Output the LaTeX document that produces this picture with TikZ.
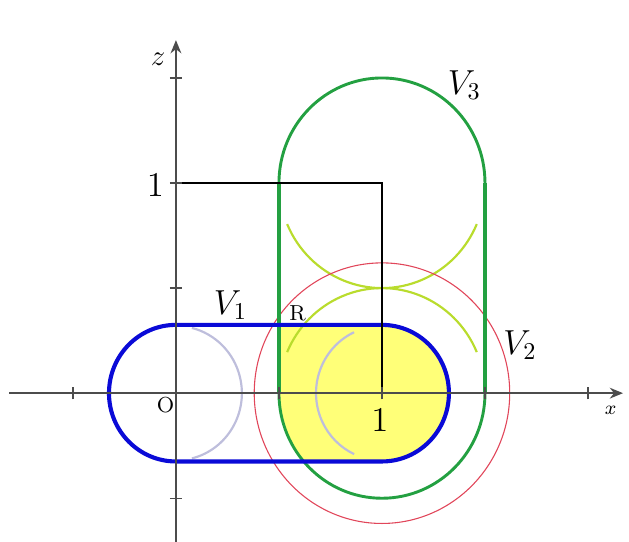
\documentclass[tikz,border=0pt]{standalone}
\usepackage{amsmath}
\usepackage{tikz}
\usetikzlibrary{arrows.meta}
\definecolor{vblue}{RGB}{10,10,215}
\definecolor{vgreen}{RGB}{35,160,65}
\definecolor{vlime}{RGB}{185,220,45}
\definecolor{vlav}{RGB}{190,190,220}
\definecolor{vred}{RGB}{225,70,90}
\definecolor{vyel}{RGB}{255,255,120}

\begin{document}
\begin{tikzpicture}[x=3cm, y=3.06cm,
    ax/.style={draw=black!70, line width=0.6pt},
    lab/.style={inner sep=1pt}]
                \useasboundingbox (-0.854,-0.705) rectangle (2.199,1.871);
                \coordinate (O) at (0,0);
                \coordinate (X1) at (1,0);
                \coordinate (Z1) at (0,1);
                \coordinate (C) at (1,1);
                \coordinate (xl) at (-0.81,0);
                \coordinate (xr) at (2.17,0);
                \coordinate (zb) at (0,-0.75);
                \coordinate (zt) at (0,1.68);
                \begin{scope}
                    \clip (0.5,1) arc (180:0:0.5) -- (1.5,0) arc (0:-180:0.5) -- cycle;
                    \fill[vyel] (0,0.325) -- (1,0.325) arc (90:-90:0.325) -- (0,-0.325) arc (270:90:0.325) -- cycle;
                \end{scope}
                \draw[vlav, line width=0.9pt] ([shift={(-76:0.32)}]O) arc (-76:76:0.32);
                \draw[vlav, line width=0.9pt] ([shift={(115:0.32)}]X1) arc (115:245:0.32);
                \draw[vlime, line width=0.9pt] ([shift={(23:0.5)}]X1) arc (23:157:0.5);
                \draw[vlime, line width=0.9pt] ([shift={(203:0.5)}]C) arc (203:337:0.5);
                \draw[vred, line width=0.45pt] (X1) circle (0.62);
                \draw[vgreen, line width=1.2pt] (0.5,1) arc (180:0:0.5) -- (1.5,0) arc (0:-180:0.5) -- cycle;
                \draw[vgreen, line width=1.8pt] (0.5,1) -- (0.5,0) (1.5,1) -- (1.5,0);
                \draw[vblue, line width=1.7pt] (0,0.325) -- (1,0.325) arc (90:-90:0.325) -- (0,-0.325) arc (270:90:0.325) -- cycle;
                \draw[black, line width=0.5pt] (Z1) -- (C) -- (X1);
                \draw[ax, -{Stealth[length=5.5pt,width=4.5pt]}] (xl) -- (xr);
                \draw[ax, -{Stealth[length=5.5pt,width=4.5pt]}] (zb) -- (zt);
                \foreach \t in {-0.5,0.5,1,1.5,2} \draw[ax] (\t,-0.03) -- (\t,0.03);
                \foreach \t in {-0.5,0.5,1,1.5} \draw[ax] (-0.03,\t) -- (0.03,\t);
                \node[lab] (Olab) at (-0.05,-0.057) {\small O};
                \node[lab] (Rlab) at (0.59,0.381) {\small R};
                \node[lab] (x1lab) at (0.99,-0.129) {\Large $1$};
                \node[lab] (z1lab) at (-0.10,0.99) {\Large $1$};
                \node[lab] (zlab) at (-0.087,1.59) {\large $z$};
                \node[lab] (xlab) at (2.11,-0.081) {\footnotesize $x$};
                \node[lab] (V1) at (0.265,0.419) {\Large $V_1$};
                \node[lab] (V2) at (1.67,0.229) {\Large $V_2$};
                \node[lab] (V3) at (1.40,1.467) {\Large $V_3$};
            \end{tikzpicture}
\end{document}
